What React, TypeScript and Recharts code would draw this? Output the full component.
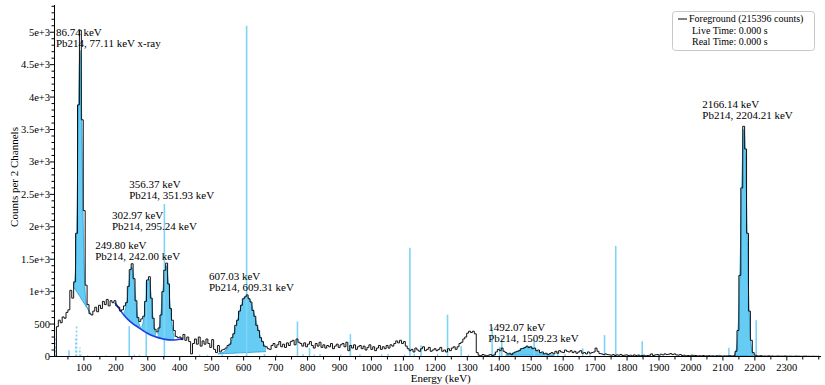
import React from 'react';
import { Area, ComposedChart, Line, ReferenceLine, Scatter, XAxis, YAxis } from 'recharts';

const FONT = '"Liberation Serif", "Times New Roman", Times, serif';

// foreground spectrum, counts per 2 channels, 6 keV bins starting at 8 keV
const BIN_START = 8;
const BIN_WIDTH = 6;
const COUNTS = [
  0, 460, 560, 520, 610, 590, 680, 720, 1020, 900,
  1150, 1900, 3880, 5030, 3650, 2250, 1100, 800, 660, 640,
  700, 760, 690, 790, 740, 850, 800, 880, 780, 860,
  830, 860, 780, 760, 700, 720, 780, 830, 1080, 1340,
  1430, 1200, 860, 600, 540, 580, 620, 850, 1180, 1230,
  900, 590, 420, 380, 440, 640, 1000, 1330, 1440, 1120,
  740, 560, 400, 310, 290, 300, 260, 340, 250, 300,
  230, 40, 200, 270, 190, 300, 160, 240, 190, 270,
  200, 140, 260, 110, 60, 170, 70, 100, 110, 130,
  170, 190, 290, 350, 480, 560, 700, 790, 890, 920,
  950, 890, 840, 710, 620, 480, 400, 290, 230, 160,
  150, 120, 110, 170, 200, 140, 180, 230, 150, 190,
  140, 210, 170, 230, 250, 180, 270, 220, 200, 160,
  210, 150, 190, 230, 170, 130, 200, 160, 220, 140,
  180, 130, 170, 150, 200, 120, 160, 190, 140, 180,
  200, 150, 220, 90, 170, 130, 180, 110, 150, 170,
  120, 160, 100, 140, 180, 110, 150, 90, 130, 170,
  110, 150, 120, 170, 130, 180, 160, 200, 240, 210,
  250, 200, 230, 160, 120, 90, 110, 70, 130, 100,
  80, 120, 150, 90, 110, 140, 80, 100, 120, 90,
  110, 140, 80, 100, 70, 120, 90, 130, 150, 110,
  150, 200, 220, 270, 300, 360, 390, 370, 390, 350,
  60, 20, 10, 30, 20, 10, 20, 30, 15, 25,
  70, 110, 90, 130, 80, 60, 40, 50, 30, 55,
  70, 80, 90, 120, 125, 140, 160, 140, 150, 120,
  130, 90, 100, 60, 70, 40, 50, 30, 45, 60,
  40, 80, 50, 90, 70, 60, 100, 80, 70, 90,
  60, 80, 50, 70, 90, 50, 60, 40, 70, 50,
  60, 70, 130, 80, 45, 40, 30, 40, 30, 25,
  20, 30, 15, 25, 20, 30, 15, 20, 25, 15,
  20, 10, 25, 15, 20, 10, 15, 20, 10, 15,
  20, 40, 15, 25, 30, 20, 35, 25, 40, 30,
  35, 45, 30, 40, 25, 20, 30, 15, 20, 10,
  15, 10, 20, 10, 15, 8, 12, 10, 15, 8,
  10, 12, 8, 10, 6, 12, 8, 10, 6, 10,
  8, 10, 12, 8, 12, 80, 400, 1250, 2600, 3550,
  3200, 1900, 700, 250, 60, 20, 10, 8, 12, 6,
  8, 5, 10, 6, 8, 4, 6, 8, 5, 6,
  5, 7, 4, 6, 5, 3, 6, 4, 5, 3,
  4, 5, 3, 4, 2, 4, 3, 2, 3, 2,
];

// fitted peaks: [energy, continuum, continuum + peak]
const PEAK_86 = [
  [68, 1070, 1100], [72, 1040, 1220], [76, 1010, 1700], [79, 990, 2450], [82, 965, 3440],
  [85, 945, 4360], [88, 920, 4720], [91, 895, 4310], [94, 870, 3350], [97, 850, 2310],
  [100, 825, 1520], [104, 795, 980], [108, 765, 800], [113, 725, 730], [120, 670, 670],
];
const PEAK_250 = [
  [225, 640, 678], [230, 613, 729], [235, 587, 866], [240, 560, 1082], [245, 540, 1299],
  [250, 520, 1380], [255, 500, 1259], [260, 483, 1005], [265, 467, 746], [270, 450, 566],
  [275, 433, 471], [280, 417, 426],
];
const PEAK_303 = [
  [280.5, 415, 452], [285, 400, 515], [289.5, 386, 662], [294, 372, 888], [298.5, 360, 1110],
  [303, 348, 1198], [307.5, 337, 1087], [312, 327, 843], [316.5, 318, 594], [321, 310, 425],
  [325.5, 302, 339],
];
const PEAK_356 = [
  [331, 294, 344], [336, 287, 441], [341, 280, 650], [346.5, 273, 964], [352, 267, 1273],
  [357, 262, 1402], [362, 259, 1265], [367.5, 257, 948], [373, 255, 625], [378, 255, 409],
  [383, 256, 306],
];
const PEAK_607 = [
  [520, 40, 44], [530, 42, 54], [540, 45, 78], [550, 47, 127], [560, 49, 217], [570, 51, 358],
  [580, 54, 543], [590, 56, 735], [600, 59, 882], [609, 61, 931], [620, 63, 864], [630, 66, 709],
  [640, 68, 518], [650, 70, 345], [660, 73, 219], [670, 75, 143],
];
const PEAK_1492 = [
  [1420, 20, 24], [1435, 20, 34], [1450, 20, 60], [1460, 20, 87], [1470, 20, 117], [1480, 20, 141],
  [1490, 20, 150], [1500, 20, 141], [1510, 20, 117], [1520, 20, 86], [1530, 20, 59], [1545, 20, 33],
  [1560, 20, 23], [1572, 20, 20],
];
const PEAK_2166 = [
  [2136, 15, 28], [2142, 15, 114], [2148, 15, 487], [2152, 15, 1055], [2156, 15, 1899],
  [2160, 15, 2810], [2163, 15, 3315], [2166, 15, 3505], [2169, 15, 3315], [2172, 15, 2810],
  [2176, 15, 1899], [2180, 15, 1055], [2184, 15, 487], [2190, 15, 114], [2196, 15, 28],
];
const PEAKS = [PEAK_86, PEAK_250, PEAK_303, PEAK_356, PEAK_607, PEAK_1492, PEAK_2166];

// shared continuum of the 250/303/356 keV multiplet
const CONTINUUM = [
  [197, 830], [210, 740], [225, 640], [240, 560], [255, 500], [270, 450], [285, 400], [300, 355],
  [315, 320], [330, 295], [345, 275], [360, 260], [375, 255], [390, 258], [400, 265], [410, 280],
];

// reference gamma lines: [energy, drawn height]
const GAMMA_LINES = [
  [53.2, 95], [242.0, 470], [295.2, 1150], [351.9, 2350], [609.3, 5100], [665.5, 40],
  [768.4, 540], [806.2, 130], [934.1, 345], [1120.3, 1675], [1155.2, 175], [1238.1, 645],
  [1281.0, 160], [1377.7, 450], [1401.5, 150], [1408.0, 285], [1509.2, 260], [1583.2, 80],
  [1661.3, 125], [1729.6, 330], [1764.5, 1705], [1847.4, 235], [2118.6, 135], [2204.2, 560],
];
const WEAK_LINES = [
  [112, 25], [140, 15], [170, 20], [258, 30], [274, 25], [462, 30], [487, 25], [533, 35],
  [580, 20], [703, 30], [786, 40], [821, 30], [839, 40], [904, 30], [964, 35], [1032, 35],
  [1052, 40], [1104, 30], [1134, 40], [1207, 40], [1303, 30], [1385, 60], [1543, 40],
  [1606, 40], [1684, 40], [1838, 40], [1873, 30], [1897, 40], [2010, 30], [2089, 30],
  [2293, 20], [2332, 20], [2361, 20],
];
const XRAY_LINES = [[10.8, 150], [13.0, 280], [74.8, 290], [77.1, 480], [87.3, 140], [89.8, 60]];

const PEAK_LABELS = [
  { e: 12.5, c: 4772, top: '86.74 keV', bottom: 'Pb214, 77.11 keV x-ray' },
  { e: 135.5, c: 1488, top: '249.80 keV', bottom: 'Pb214, 242.00 keV' },
  { e: 187.8, c: 1951, top: '302.97 keV', bottom: 'Pb214, 295.24 keV' },
  { e: 242, c: 2429, top: '356.37 keV', bottom: 'Pb214, 351.93 keV' },
  { e: 491.4, c: 1010, top: '607.03 keV', bottom: 'Pb214, 609.31 keV' },
  { e: 1365.6, c: 224, top: '1492.07 keV', bottom: 'Pb214, 1509.23 keV' },
  { e: 2035.4, c: 3655, top: '2166.14 keV', bottom: 'Pb214, 2204.21 keV' },
];

const X_MAJOR = [100, 200, 300, 400, 500, 600, 700, 800, 900, 1000, 1100, 1200, 1300, 1400, 1500,
  1600, 1700, 1800, 1900, 2000, 2100, 2200, 2300];
const X_TICKS = Array.from({ length: 48 }, (_, i) => 50 + i * 50);
const Y_MAJOR = [0, 500, 1000, 1500, 2000, 2500, 3000, 3500, 4000, 4500, 5000];
const Y_LABELS = ['0', '500', '1e+3', '1.5e+3', '2e+3', '2.5e+3', '3e+3', '3.5e+3', '4e+3', '4.5e+3', '5e+3'];
const Y_TICKS = Array.from({ length: 55 }, (_, i) => i * 100);

const spectrum = COUNTS.map((c, i) => ({ e: BIN_START + i * BIN_WIDTH, c }));
const continuum = CONTINUUM.map(([e, c]) => ({ e, c }));
const toRange = (rows: number[][]) => rows.map(([e, lo, hi]) => ({ e, r: [lo, hi] }));

const LINE_BLUE = '#7fd3f6';

function XTick({ x, y, payload }: any) {
  const v = payload.value;
  const major = X_MAJOR.includes(v);
  return (
    <g>
      <line x1={x} x2={x} y1={y} y2={y + (major ? 4 : 3)} stroke="#000" />
      {major && (
        <text x={x} y={y + 14} textAnchor="middle" fontSize={10.5} fontFamily={FONT} fill="#000">
          {v}
        </text>
      )}
    </g>
  );
}

function YTick({ x, y, payload }: any) {
  const idx = Y_MAJOR.indexOf(payload.value);
  const major = idx >= 0;
  return (
    <g>
      <line x1={x} x2={x - (major ? 5 : 3)} y1={y} y2={y} stroke="#000" />
      {major && (
        <text x={x - 4.5} y={y + 3.5} textAnchor="end" fontSize={10.5} fontFamily={FONT} fill="#000">
          {Y_LABELS[idx]}
        </text>
      )}
    </g>
  );
}

function PeakLabel({ cx, cy, payload }: any) {
  return (
    <text fontSize={11} fontFamily={FONT} fill="#000">
      <tspan x={cx} y={cy - 11}>{payload.top}</tspan>
      <tspan x={cx} y={cy}>{payload.bottom}</tspan>
    </text>
  );
}

export default function App() {
  return (
    <div style={{ position: 'absolute', left: 0, top: 0, width: 825, height: 385, background: '#fff' }}>
      <ComposedChart width={825} height={385} margin={{ top: 5, right: 4, bottom: 0, left: 0 }}>
        <XAxis
          type="number"
          dataKey="e"
          domain={[8, 2407]}
          allowDataOverflow
          ticks={X_TICKS}
          interval={0}
          tick={<XTick />}
          tickLine={false}
          tickSize={0}
          tickMargin={0}
          height={28.5}
          axisLine={{ stroke: '#000' }}
          label={({ viewBox }: any) => (
            <text x={viewBox.x + viewBox.width / 2 + 3} y={viewBox.y + 25.5} textAnchor="middle"
              fontSize={11} fontFamily={FONT} fill="#000">Energy (keV)</text>
          )}
        />
        <YAxis
          type="number"
          domain={[0, 5420]}
          allowDataOverflow
          ticks={Y_TICKS}
          interval={0}
          tick={<YTick />}
          tickLine={false}
          tickSize={0}
          tickMargin={0}
          width={54.5}
          axisLine={{ stroke: '#000' }}
          label={() => (
            <text x={18} y={177} transform="rotate(-90 18 177)" textAnchor="middle"
              fontSize={11} fontFamily={FONT} fill="#000">Counts per 2 Channels</text>
          )}
        />
        {PEAKS.map((p, i) => (
          <Area key={`peak-${i}`} data={toRange(p)} dataKey="r" type="monotone" fill="#4cc3f2"
            fillOpacity={0.85} stroke="#1aa0dd" strokeWidth={0.8} isAnimationActive={false} />
        ))}
        {GAMMA_LINES.map(([e, h]) => (
          <ReferenceLine key={`g-${e}`} segment={[{ x: e, y: 0 }, { x: e, y: h }]}
            stroke={LINE_BLUE} strokeWidth={1.6} ifOverflow="visible" />
        ))}
        {WEAK_LINES.map(([e, h]) => (
          <ReferenceLine key={`w-${e}`} segment={[{ x: e, y: 0 }, { x: e, y: h }]}
            stroke={LINE_BLUE} strokeWidth={1.4} ifOverflow="visible" />
        ))}
        {XRAY_LINES.map(([e, h]) => (
          <ReferenceLine key={`x-${e}`} segment={[{ x: e, y: 0 }, { x: e, y: h }]}
            stroke={LINE_BLUE} strokeWidth={1.6} strokeDasharray="2 2" ifOverflow="visible" />
        ))}
        <Line data={continuum} dataKey="c" type="monotone" stroke="#1f3fe6" strokeWidth={1.6}
          dot={false} isAnimationActive={false} />
        <Line data={spectrum} dataKey="c" type="stepAfter" stroke="#111" strokeWidth={1}
          dot={false} isAnimationActive={false} />
        <Scatter data={PEAK_LABELS} dataKey="c" shape={<PeakLabel />} isAnimationActive={false} />
      </ComposedChart>
      <svg width={825} height={385} style={{ position: 'absolute', left: 0, top: 0, pointerEvents: 'none' }}>
        <rect x={672.5} y={11.5} width={142} height={39} rx={3} fill="#fff" stroke="#c8c8c8" />
        <line x1={678} x2={687} y1={19} y2={19} stroke="#000" />
        <text fontSize={10} fontFamily={FONT} fill="#000">
          <tspan x={689} y={22}>Foreground (215396 counts)</tspan>
          <tspan x={692} y={33.5}>Live Time: 0.000 s</tspan>
          <tspan x={692} y={45}>Real Time: 0.000 s</tspan>
        </text>
      </svg>
    </div>
  );
}
